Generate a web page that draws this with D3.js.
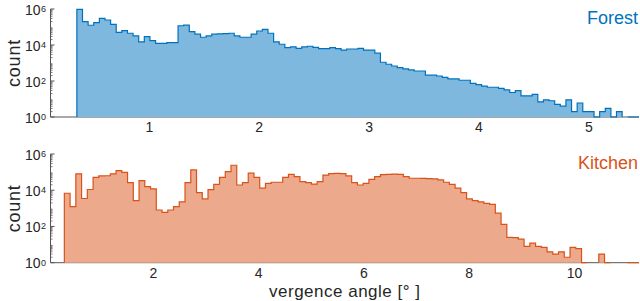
<!DOCTYPE html>
<html lang="en">
<head>
  <meta charset="UTF-8">
  <title>Vergence angle histograms</title>
  <script src="https://d3js.org/d3.v7.min.js"></script>
  <style>
    body { margin: 0; background: #fff; }
    text { font-family: "Liberation Sans", Arial, Helvetica, sans-serif; fill: #262626; }
    .tick-label { font-size: 14px; }
    .sup { font-size: 9px; }
    .axis-title { font-size: 18px; }
  </style>
</head>
<body>
  <svg width="640" height="301"></svg>

  <script>
    // Forest: 100 bins between these bounds (counts per bin)
    const forestRange = [0.34, 5.457];
    const forestCounts = [
      950000, 200000, 125000, 175000, 300000, 245000, 140000, 50000, 63000, 45000,
      32000, 15000, 29000, 17500, 12300, 12300, 13500, 13500, 117000, 126000,
      55000, 40000, 27000, 32000, 40000, 42000, 43000, 45000, 32000, 27000,
      27000, 40000, 60000, 74000, 45000, 15000, 11000, 7100, 7900, 6500,
      7800, 8500, 7400, 6300, 6300, 7100, 6300, 5200, 6000, 6000,
      6500, 5200, 5200, 3500, 1100, 850, 680, 550, 470, 410,
      360, 360, 210, 210, 190, 160, 130, 130, 110, 110,
      74, 63, 52, 45, 45, 39, 32, 23, 29, 15,
      15, 18, 7, 9, 8, 5, 4, 9, 2, 6,
      2, 2, 1, 2, 3, 1, 2, 0, 1, 1
    ];

    // Kitchen: 100 bins between these bounds
    const kitchenRange = [0.308, 11.226];
    const kitchenCounts = [
      6800, 1230, 80000, 3500, 11000, 51000, 62000, 63000, 80000, 120000,
      98000, 26000, 2700, 34000, 16000, 12000, 810, 600, 810, 1230,
      2300, 26000, 132000, 7400, 3300, 10700, 21000, 51000, 107000, 240000,
      19500, 26000, 87000, 51000, 13000, 24000, 27500, 27500, 51000, 76000,
      56000, 30000, 26000, 22000, 30000, 69000, 83000, 85000, 83000, 62000,
      26000, 19500, 24000, 40000, 56000, 72000, 76000, 78000, 76000, 56000,
      46000, 46000, 45000, 44000, 42000, 37000, 27500, 21000, 13000, 7400,
      3300, 2700, 2300, 1900, 1650, 540, 130, 25, 24, 20,
      8, 12, 8, 7, 4, 3, 4, 2, 7, 6,
      1, 0, 0, 3, 1, 0, 0, 0, 1, 1
    ];

    const forestTicks = [1, 2, 3, 4, 5];
    const kitchenTicks = [2, 4, 6, 8, 10];
    const yExponents = [0, 2, 4, 6];

    const svg = d3.select("svg");
    const left = 50.5, right = 639;

    const panels = [
      { name: "Forest", counts: forestCounts, range: forestRange, xDomain: [0.1, 5.457],
        ticks: forestTicks, top: 9, bottom: 117, line: "#0072bd", fill: "#7fb8de" },
      { name: "Kitchen", counts: kitchenCounts, range: kitchenRange, xDomain: [0.045, 11.226],
        ticks: kitchenTicks, top: 154, bottom: 262.7, line: "#d95319", fill: "#eca98c" }
    ];

    panels.forEach(p => {
      const x = d3.scaleLinear().domain(p.xDomain).range([left, right]);
      const y = d3.scaleLog().domain([1, 1e6]).range([p.bottom, p.top]);
      const n = p.counts.length;
      const w = (p.range[1] - p.range[0]) / n;
      const edge = i => p.range[0] + i * w;

      // step outline points, with gaps for empty bins
      const pts = [];
      let prevZero = true;
      p.counts.forEach((c, i) => {
        if (c > 0) {
          if (prevZero) pts.push({x: edge(i), c: 1});
          pts.push({x: edge(i), c: c}, {x: edge(i + 1), c: c});
          prevZero = false;
        } else {
          if (!prevZero) pts.push({x: edge(i), c: 1});
          pts.push({x: edge(i), c: null});
          prevZero = true;
        }
      });
      if (!prevZero) pts.push({x: edge(n), c: 1});

      const area = d3.area()
        .defined(d => d.c != null)
        .x(d => x(d.x))
        .y0(y(1))
        .y1(d => y(d.c));
      const line = d3.line()
        .defined(d => d.c != null)
        .x(d => x(d.x))
        .y(d => y(d.c));

      // axes lines
      const g = svg.append("g");
      g.append("line")
        .attr("x1", left).attr("x2", right)
        .attr("y1", y(1)).attr("y2", y(1))
        .attr("stroke", "#555").attr("stroke-width", 1);
      g.append("line")
        .attr("x1", left).attr("x2", left)
        .attr("y1", y(1)).attr("y2", y(1e6))
        .attr("stroke", "#555").attr("stroke-width", 1);

      svg.append("path").datum(pts)
        .attr("d", area)
        .attr("fill", p.fill);
      svg.append("path").datum(pts)
        .attr("d", line)
        .attr("fill", "none")
        .attr("stroke", p.line)
        .attr("stroke-width", 1.2);

      // y minor ticks
      const minors = [];
      for (let e = 0; e < 6; e++) for (let m = 2; m <= 9; m++) minors.push(m * Math.pow(10, e));
      g.selectAll(".ymin").data(minors).join("line")
        .attr("x1", left).attr("x2", left + 2)
        .attr("y1", d => y(d)).attr("y2", d => y(d))
        .attr("stroke", "#555").attr("stroke-width", 0.8);
      // y major ticks and labels
      g.selectAll(".ymaj").data(yExponents).join("line")
        .attr("x1", left).attr("x2", left + 4)
        .attr("y1", d => y(Math.pow(10, d))).attr("y2", d => y(Math.pow(10, d)))
        .attr("stroke", "#555").attr("stroke-width", 1);
      g.selectAll(".ylab").data(yExponents).join("text")
        .attr("class", "tick-label")
        .attr("x", 40.5)
        .attr("y", d => y(Math.pow(10, d)) + 5.5)
        .attr("text-anchor", "end")
        .text("10");
      g.selectAll(".ysup").data(yExponents).join("text")
        .attr("class", "sup")
        .attr("x", 41)
        .attr("y", d => y(Math.pow(10, d)) + 3)
        .text(d => d);

      // x ticks
      g.selectAll(".xt").data(p.ticks).join("line")
        .attr("x1", d => x(d)).attr("x2", d => x(d))
        .attr("y1", y(1)).attr("y2", y(1) - 4)
        .attr("stroke", "#555").attr("stroke-width", 1);
      g.selectAll(".xl").data(p.ticks).join("text")
        .attr("class", "tick-label")
        .attr("x", d => x(d))
        .attr("y", y(1) + 15)
        .attr("text-anchor", "middle")
        .text(d => d);

      // y title
      const cy = (p.top + p.bottom) / 2;
      g.append("text")
        .attr("class", "axis-title")
        .attr("transform", `translate(20,${cy}) rotate(-90)`)
        .attr("text-anchor", "middle")
        .attr("letter-spacing", 0.8)
        .text("count");

      // panel name
      g.append("text")
        .attr("x", 638)
        .attr("y", p.top + 14.5)
        .attr("text-anchor", "end")
        .style("font-size", "18px")
        .style("fill", p.line)
        .text(p.name);
    });

    svg.append("text")
      .attr("class", "axis-title")
      .attr("x", (left + right) / 2)
      .attr("y", 296.5)
      .attr("text-anchor", "middle")
      .attr("letter-spacing", 0.5)
      .style("font-size", "17px")
      .text("vergence angle [° ]");
  </script>
</body>
</html>
